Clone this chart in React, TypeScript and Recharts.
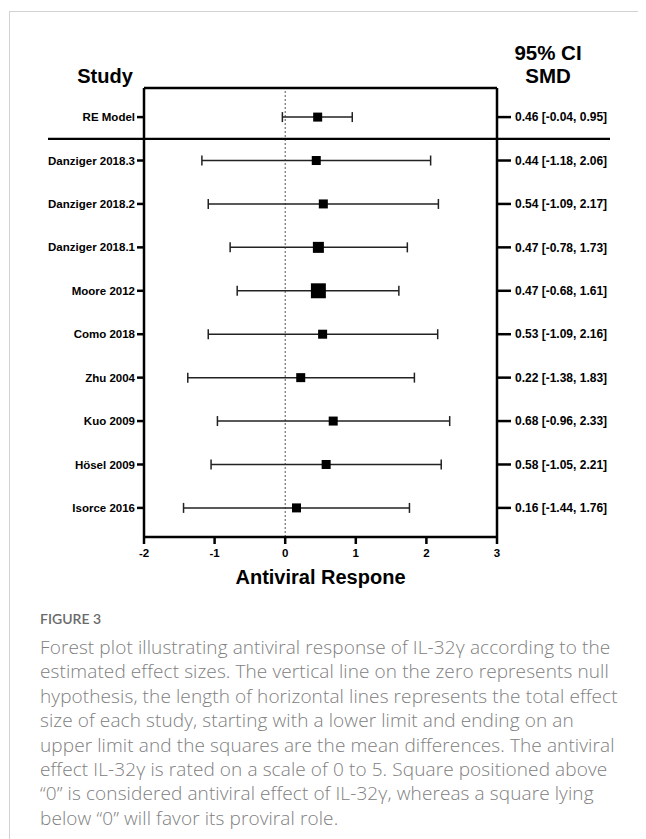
import {
  ScatterChart,
  Scatter,
  XAxis,
  YAxis,
  ErrorBar,
  ReferenceLine,
} from 'recharts'

const studies = [
  'RE Model',
  'Danziger 2018.3',
  'Danziger 2018.2',
  'Danziger 2018.1',
  'Moore 2012',
  'Como 2018',
  'Zhu 2004',
  'Kuo 2009',
  'Hösel 2009',
  'Isorce 2016',
]
const smd = [0.46, 0.44, 0.54, 0.47, 0.47, 0.53, 0.22, 0.68, 0.58, 0.16]
const lower = [-0.04, -1.18, -1.09, -0.78, -0.68, -1.09, -1.38, -0.96, -1.05, -1.44]
const upper = [0.95, 2.06, 2.17, 1.73, 1.61, 2.16, 1.83, 2.33, 2.21, 1.76]
// study weights (%), the pooled row has none
const weights = [null, 8.7, 8.7, 13, 24, 8.7, 8.7, 8.7, 8.7, 8.7]
const xTicks = [-2, -1, 0, 1, 2, 3]

const captionLines = [
  'Forest plot illustrating antiviral response of IL-32γ according to the',
  'estimated effect sizes. The vertical line on the zero represents null',
  'hypothesis, the length of horizontal lines represents the total effect',
  'size of each study, starting with a lower limit and ending on an',
  'upper limit and the squares are the mean differences. The antiviral',
  'effect IL-32γ is rated on a scale of 0 to 5. Square positioned above',
  '“0” is considered antiviral effect of IL-32γ, whereas a square lying',
  'below “0” will favor its proviral role.',
]

const rows = studies.map((name, i) => ({
  name,
  row: i,
  smd: smd[i],
  err: [smd[i] - lower[i], upper[i] - smd[i]],
  weight: weights[i],
}))

const ciText = (i: number) =>
  `${smd[i].toFixed(2)} [${lower[i].toFixed(2)}, ${upper[i].toFixed(2)}]`

const font = "'Liberation Sans', Arial, Helvetica, sans-serif"
const rowIds = rows.map((r) => r.row)

const Square = (props: any) => {
  const { cx, cy, payload } = props
  const s = payload.weight == null ? 9 : 9 * Math.sqrt(payload.weight / 8.7)
  return <rect x={cx - s / 2} y={cy - s / 2} width={s} height={s} fill='#000' />
}

const Nothing = () => <g />

const Separator = (props: any) => {
  const { x1, x2, y1, y2 } = props
  return <line x1={x1 - 96} x2={x2 + 113} y1={y1} y2={y2} stroke='#000' strokeWidth={2.2} />
}

const tickStyle = { fill: '#000', fontSize: 11.5, fontWeight: 700, fontFamily: font }
const axisLine = { stroke: '#000', strokeWidth: 2.5 }

export default function App() {
  return (
    <div style={{ position: 'relative', width: 638, height: 831, overflow: 'hidden' }}>
      <div
        style={{
          position: 'absolute',
          left: 1,
          top: 3,
          width: 700,
          height: 900,
          borderLeft: '1px solid #d2d2d2',
          borderTop: '1px solid #d2d2d2',
        }}
      />
      <div style={{ position: 'absolute', left: 0, top: 0 }}>
        <ScatterChart width={630} height={600} margin={{ top: 79, right: 11, left: 6, bottom: 21 }}>
          <XAxis
            xAxisId='top'
            orientation='top'
            type='number'
            dataKey='smd'
            domain={[-2, 3]}
            ticks={xTicks}
            tick={false}
            tickLine={false}
            height={1}
            axisLine={axisLine}
          />
          <XAxis
            type='number'
            dataKey='smd'
            domain={[-2, 3]}
            ticks={xTicks}
            height={50}
            tickSize={7}
            tickMargin={5}
            tick={tickStyle}
            axisLine={axisLine}
            tickLine={axisLine}
            label={{
              value: 'Antiviral Respone',
              position: 'insideBottom',
              offset: 3,
              style: { fill: '#000', fontSize: 20, fontWeight: 700, fontFamily: font },
            }}
          />
          <YAxis
            yAxisId='left'
            type='number'
            dataKey='row'
            reversed
            domain={[-0.67, 9.67]}
            ticks={rowIds}
            width={130}
            tickSize={7}
            tickMargin={2}
            tickFormatter={(v: number) => studies[v]}
            tick={tickStyle}
            axisLine={axisLine}
            tickLine={axisLine}
          />
          <YAxis
            yAxisId='right'
            orientation='right'
            type='number'
            dataKey='row'
            reversed
            domain={[-0.67, 9.67]}
            ticks={rowIds}
            width={130}
            tickSize={14}
            tickMargin={4}
            tickFormatter={(v: number) => ciText(v)}
            tick={{ ...tickStyle, fontSize: 12 }}
            axisLine={axisLine}
            tickLine={axisLine}
          />
          <ReferenceLine
            yAxisId='left'
            x={0}
            stroke='#555'
            strokeWidth={1}
            strokeDasharray='2 2'
          />
          <ReferenceLine yAxisId='left' y={0.5} shape={<Separator />} ifOverflow='visible' />
          <Scatter
            xAxisId='top'
            yAxisId='right'
            data={rows}
            dataKey='row'
            shape={<Nothing />}
            isAnimationActive={false}
          />
          <Scatter
            yAxisId='left'
            data={rows}
            dataKey='row'
            shape={<Square />}
            isAnimationActive={false}
          >
            <ErrorBar dataKey='err' direction='x' width={5} stroke='#222' strokeWidth={1.5} />
          </Scatter>
        </ScatterChart>
      </div>
      <div
        style={{
          position: 'absolute',
          left: 97,
          top: 68,
          transform: 'translate(-50%, -50%)',
          fontFamily: font,
          fontWeight: 700,
          fontSize: 20,
          lineHeight: 1,
        }}
      >
        Study
      </div>
      <div
        style={{
          position: 'absolute',
          left: 540,
          top: 56,
          transform: 'translate(-50%, -50%)',
          fontFamily: font,
          fontWeight: 700,
          fontSize: 20.5,
          lineHeight: '23px',
          textAlign: 'center',
          whiteSpace: 'nowrap',
        }}
      >
        95% CI
        <br />
        SMD
      </div>
      <div
        style={{
          position: 'absolute',
          left: 32,
          top: 603,
          fontFamily: 'Lato, sans-serif',
          fontWeight: 600,
          fontSize: 14,
          lineHeight: '16px',
          color: '#6a6a6a',
        }}
      >
        FIGURE 3
      </div>
      <div
        style={{
          position: 'absolute',
          left: 32,
          top: 627,
          fontFamily: "'Open Sans', sans-serif",
          fontWeight: 300,
          fontSize: 19,
          letterSpacing: 0.1,
          lineHeight: '24.4px',
          color: '#808080',
          whiteSpace: 'nowrap',
        }}
      >
        {captionLines.map((line) => (
          <div key={line}>{line}</div>
        ))}
      </div>
    </div>
  )
}
